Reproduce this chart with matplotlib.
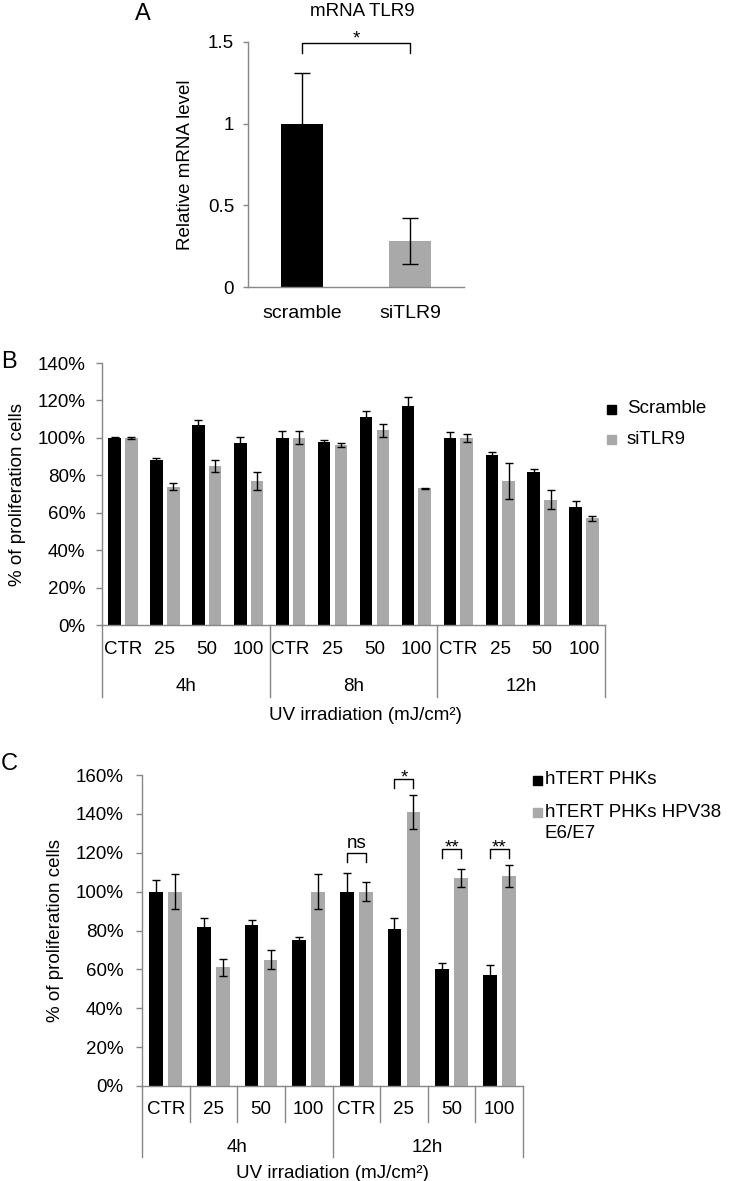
import matplotlib
matplotlib.use('Agg')
import matplotlib.pyplot as plt
from matplotlib.patches import Rectangle
from matplotlib.ticker import FixedLocator

plt.rcParams['font.family'] = ['Liberation Sans', 'DejaVu Sans']

# ---------------- data ----------------
a_cats = ['scramble', 'siTLR9']
a_vals = [1.00, 0.28]
a_errs = [0.31, 0.14]
a_title = 'mRNA TLR9'

b_doses = ['CTR', '25', '50', '100']
b_times = ['4h', '8h', '12h']
b_series = ['Scramble', 'siTLR9']
b_scramble = [100, 88, 107, 97, 100, 98, 111, 117, 100, 91, 82, 63]
b_scramble_err = [0.3, 1.5, 2.5, 3.5, 3.5, 1.0, 3.5, 5.0, 3.0, 1.5, 1.5, 3.0]
b_sitlr9 = [100, 74, 85, 77, 100, 96, 104, 73, 100, 77, 67, 57]
b_sitlr9_err = [0.5, 2.0, 3.0, 5.0, 3.5, 1.0, 3.5, 0.3, 2.0, 9.7, 5.0, 1.5]

c_doses = ['CTR', '25', '50', '100']
c_times = ['4h', '12h']
c_series = ['hTERT PHKs', 'hTERT PHKs HPV38\nE6/E7']
c_phk = [100, 82, 83, 75, 100, 81, 60, 57]
c_phk_err = [6.0, 4.3, 2.5, 1.7, 9.6, 5.3, 3.5, 5.5]
c_hpv = [100, 61, 65, 100, 100, 141, 107, 108]
c_hpv_err = [9.0, 4.3, 4.8, 9.0, 5.0, 8.7, 4.8, 5.5]
c_sig_idx = [4, 5, 6, 7]
c_sig_text = ['ns', '*', '**', '**']

# ---------------- style ----------------
W, H = 733, 1181
BLACK = '#000000'
GRAY = '#a9a9a9'
AXC = '#878787'
FS = 13.5

fig = plt.figure(figsize=(W / 100, H / 100), dpi=100)


def px_axes(x0, y0, x1, y1):
    return fig.add_axes([x0 / W, 1 - y1 / H, (x1 - x0) / W, (y1 - y0) / H])


def fy(ypx):
    return 1 - ypx / H


def fx(xpx):
    return xpx / W


def base_style(ax, ticklen, pad):
    for s in ['top', 'right']:
        ax.spines[s].set_visible(False)
    for s in ['left', 'bottom']:
        ax.spines[s].set_color(AXC)
        ax.spines[s].set_linewidth(1.0)
    ax.tick_params(axis='y', length=ticklen, width=1.0, color=AXC, pad=pad,
                   labelsize=FS)
    ax.tick_params(axis='x', length=0, labelbottom=False)


def yax(top, bottom, ypx):
    return (bottom - ypx) / (bottom - top)


err_kw = dict(ecolor='black', elinewidth=1.0, capsize=3.2, capthick=1.0)

# ---------------- Panel A ----------------
A_T, A_B = 42, 287
axA = px_axes(248, A_T, 464, A_B)
xa = list(range(len(a_cats)))
axA.bar(xa, a_vals, width=0.39, color=[BLACK, GRAY], zorder=2)
axA.errorbar(xa, a_vals, yerr=a_errs, fmt='none', zorder=3,
             ecolor='black', elinewidth=1.0, capsize=5.5, capthick=1.0)
axA.set_xlim(-0.5, 1.5)
axA.set_ylim(0, 1.5)
axA.set_yticks([0, 0.5, 1.0, 1.5])
axA.set_yticklabels(['0', '0.5', '1', '1.5'])
base_style(axA, 3.5, 6.5)
axA.xaxis.set_minor_locator(FixedLocator([-0.5, 0.5, 1.5]))
axA.tick_params(axis='x', which='minor', length=4, width=1.0, color=AXC)
tA = axA.get_xaxis_transform()
for i, c in enumerate(a_cats):
    axA.text(i, yax(A_T, A_B, 313), c, transform=tA, ha='center', va='center',
             fontsize=14)
axA.set_ylabel('Relative mRNA level', fontsize=FS)
axA.yaxis.set_label_coords((194 - 248) / 216, 0.5)
fig.text(fx(362), fy(11), a_title, ha='center', va='center', fontsize=FS)
axA.plot([0, 0, 1, 1], [1.433, 1.494, 1.494, 1.433], color='black', lw=1.0,
         clip_on=False)
axA.text(0.5, 1.488, '*', ha='center', va='baseline', fontsize=FS)
fig.text(fx(143), fy(14), 'A', ha='center', va='center', fontsize=17)

# ---------------- Panel B ----------------
B_T, B_B = 363, 625
axB = px_axes(102, B_T, 605, B_B)
nB = len(b_scramble)
xb = list(range(nB))
axB.bar([x - 0.2 for x in xb], b_scramble, width=0.3, color=BLACK, zorder=2)
axB.bar([x + 0.2 for x in xb], b_sitlr9, width=0.3, color=GRAY, zorder=2)
axB.errorbar([x - 0.2 for x in xb], b_scramble, yerr=b_scramble_err,
             fmt='none', zorder=3, **err_kw)
axB.errorbar([x + 0.2 for x in xb], b_sitlr9, yerr=b_sitlr9_err,
             fmt='none', zorder=3, **err_kw)
axB.set_xlim(-0.5, nB - 0.5)
axB.set_ylim(0, 140)
yt = list(range(0, 141, 20))
axB.set_yticks(yt)
axB.set_yticklabels([f'{v}%' for v in yt])
base_style(axB, 4.3, 7.5)
tB = axB.get_xaxis_transform()
for i in range(nB):
    axB.text(i, yax(B_T, B_B, 649), b_doses[i % 4], transform=tB,
             ha='center', va='center', fontsize=FS)
for g, t in enumerate(b_times):
    axB.text(g * 4 + 1.5, yax(B_T, B_B, 686), t, transform=tB,
             ha='center', va='center', fontsize=FS)
for xd in [-0.5, 3.5, 7.5, 11.5]:
    axB.plot([xd, xd], [0, yax(B_T, B_B, 697)], transform=tB, color=AXC,
             lw=1.0, clip_on=False)
axB.set_ylabel('% of proliferation cells', fontsize=FS)
axB.yaxis.set_label_coords((26 - 102) / 503, 0.5)
fig.text(fx(365), fy(715), 'UV irradiation (mJ/cm²)', ha='center',
         va='center', fontsize=FS)
fig.text(fx(9), fy(362), 'B', ha='center', va='center', fontsize=17)
# legend B
for k, (lab, col) in enumerate(zip(b_series, [BLACK, GRAY])):
    yc = [409, 439.5][k]
    fig.patches.append(Rectangle((fx(607), fy(yc + 4.5)), 9 / W, 9 / H,
                                 transform=fig.transFigure, color=col))
    fig.text(fx(627), fy(yc), lab, ha='left', va='center', fontsize=FS)

# ---------------- Panel C ----------------
C_T, C_B = 775, 1086
axC = px_axes(142, C_T, 523, C_B)
nC = len(c_phk)
xc = list(range(nC))
axC.bar([x - 0.2 for x in xc], c_phk, width=0.29, color=BLACK, zorder=2)
axC.bar([x + 0.2 for x in xc], c_hpv, width=0.29, color=GRAY, zorder=2)
axC.errorbar([x - 0.2 for x in xc], c_phk, yerr=c_phk_err, fmt='none',
             zorder=3, **err_kw)
axC.errorbar([x + 0.2 for x in xc], c_hpv, yerr=c_hpv_err, fmt='none',
             zorder=3, **err_kw)
axC.set_xlim(-0.5, nC - 0.5)
axC.set_ylim(0, 160)
ytc = list(range(0, 161, 20))
axC.set_yticks(ytc)
axC.set_yticklabels([f'{v}%' for v in ytc])
base_style(axC, 4.3, 9)
tC = axC.get_xaxis_transform()
for i in range(nC):
    axC.text(i, yax(C_T, C_B, 1110), c_doses[i % 4], transform=tC,
             ha='center', va='center', fontsize=FS)
for g, t in enumerate(c_times):
    axC.text(g * 4 + 1.5, yax(C_T, C_B, 1147), t, transform=tC,
             ha='center', va='center', fontsize=FS)
for xd in [x - 0.5 for x in range(nC + 1)]:
    bot = 1157 if xd in (-0.5, 3.5, 7.5) else 1122
    axC.plot([xd, xd], [0, yax(C_T, C_B, bot)], transform=tC, color=AXC,
             lw=1.0, clip_on=False)
axC.set_ylabel('% of proliferation cells', fontsize=FS)
axC.yaxis.set_label_coords((64 - 142) / 381, 0.5)
fig.text(fx(332), fy(1173), 'UV irradiation (mJ/cm²)', ha='center',
         va='center', fontsize=FS)
fig.text(fx(9), fy(764), 'C', ha='center', va='center', fontsize=17)
# significance brackets
br_top = [120, 158, 122, 122]
br_leg = 4.7
txt_base = [122.4, 156.4, 120.4, 120.4]
for idx, s, bt, tb in zip(c_sig_idx, c_sig_text, br_top, txt_base):
    axC.plot([idx - 0.2, idx - 0.2, idx + 0.2, idx + 0.2],
             [bt - br_leg, bt, bt, bt - br_leg], color='black', lw=1.0,
             clip_on=False)
    axC.text(idx, tb, s, ha='center', va='baseline', fontsize=FS)
# legend C
leg_y = [780, 812.5]
for k, (lab, col) in enumerate(zip(c_series, [BLACK, GRAY])):
    yc = leg_y[k]
    fig.patches.append(Rectangle((fx(533), fy(yc + 4.5)), 9 / W, 9 / H,
                                 transform=fig.transFigure, color=col))
    for j, line in enumerate(lab.split('\n')):
        fig.text(fx(545), fy(yc + 20.5 * j), line, ha='left', va='center',
                 fontsize=FS)

fig.savefig('out.png', dpi=100)
